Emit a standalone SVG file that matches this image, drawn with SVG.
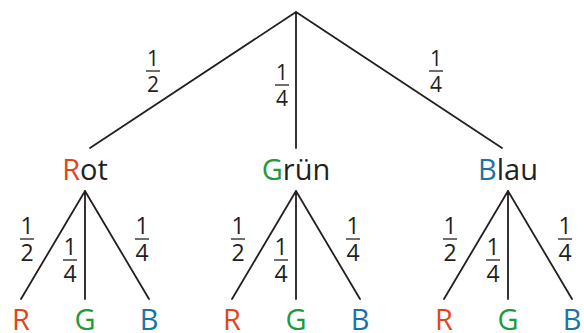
<svg xmlns="http://www.w3.org/2000/svg" width="584" height="333" viewBox="0 0 584 333">
<style>
.e{stroke:#231f20;stroke-width:1.8;fill:none;stroke-linecap:round}
.bar{stroke:#231f20;stroke-width:1.3}
text{font-family:"Open Sans","Liberation Sans",sans-serif;fill:#231f20;text-anchor:middle}
.ft{font-size:21px}
.fs{font-size:23px}
.lbl{font-size:29px}
.r{fill:#e6421e}
.g{fill:#1f9a3c}
.b{fill:#1a73a8}
</style>
<rect width="584" height="333" fill="#fff"/>
<g id="connectors">
<path class="e" d="M296 12 L90 148 M296 12 L296 148 M296 12 L502 148"/>
<path class="e" d="M85 191 L21 299 M85 191 L85 299 M85 191 L149 299"/>
<path class="e" d="M296 191 L232 299 M296 191 L296 299 M296 191 L360 299"/>
<path class="e" d="M508 191 L444 299 M508 191 L508 299 M508 191 L572 299"/>
</g>
<g id="edge-labels">
<g class="ft">
<text x="153" y="66">1</text><line class="bar" x1="146" y1="71" x2="160" y2="71"/><text x="153" y="92">2</text>
<text x="282" y="80">1</text><line class="bar" x1="275" y1="85" x2="289" y2="85"/><text x="282" y="106">4</text>
<text x="436" y="66">1</text><line class="bar" x1="429" y1="71" x2="443" y2="71"/><text x="436" y="92">4</text>
</g>
<g class="fs">
<text x="27" y="234">1</text><line class="bar" x1="20" y1="239" x2="34" y2="239"/><text x="27" y="261">2</text>
<text x="70" y="255">1</text><line class="bar" x1="63" y1="260" x2="77" y2="260"/><text x="70" y="282">4</text>
<text x="142" y="234">1</text><line class="bar" x1="135" y1="239" x2="149" y2="239"/><text x="142" y="261">4</text>

<text x="238" y="234">1</text><line class="bar" x1="231" y1="239" x2="245" y2="239"/><text x="238" y="261">2</text>
<text x="281" y="255">1</text><line class="bar" x1="274" y1="260" x2="288" y2="260"/><text x="281" y="282">4</text>
<text x="353" y="234">1</text><line class="bar" x1="346" y1="239" x2="360" y2="239"/><text x="353" y="261">4</text>

<text x="450" y="234">1</text><line class="bar" x1="443" y1="239" x2="457" y2="239"/><text x="450" y="261">2</text>
<text x="493" y="255">1</text><line class="bar" x1="486" y1="260" x2="500" y2="260"/><text x="493" y="282">4</text>
<text x="565" y="234">1</text><line class="bar" x1="558" y1="239" x2="572" y2="239"/><text x="565" y="261">4</text>
</g>
</g>
<g id="node-rot"><text class="lbl" x="85" y="180"><tspan class="r">R</tspan>ot</text></g>
<g id="node-gruen"><text class="lbl" x="296" y="180"><tspan class="g">G</tspan>rün</text></g>
<g id="node-blau"><text class="lbl" x="508" y="180"><tspan class="b">B</tspan>lau</text></g>
<g id="leaf-rot-r"><text class="lbl r" x="21" y="330">R</text></g>
<g id="leaf-rot-g"><text class="lbl g" x="85" y="330">G</text></g>
<g id="leaf-rot-b"><text class="lbl b" x="149" y="330">B</text></g>
<g id="leaf-gruen-r"><text class="lbl r" x="232" y="330">R</text></g>
<g id="leaf-gruen-g"><text class="lbl g" x="296" y="330">G</text></g>
<g id="leaf-gruen-b"><text class="lbl b" x="360" y="330">B</text></g>
<g id="leaf-blau-r"><text class="lbl r" x="444" y="330">R</text></g>
<g id="leaf-blau-g"><text class="lbl g" x="508" y="330">G</text></g>
<g id="leaf-blau-b"><text class="lbl b" x="572" y="330">B</text></g>
</svg>
